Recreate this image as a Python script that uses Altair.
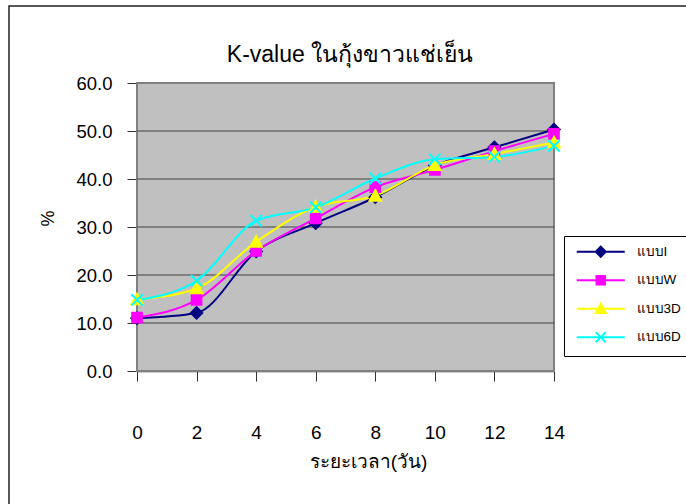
import altair as alt
import pandas as pd

# Storage time (days) and K-value (%) for each chilling treatment
days = [0, 2, 4, 6, 8, 10, 12, 14]
series_names = ["แบบI", "แบบW", "แบบ3D", "แบบ6D"]
k_type_i = [11.0, 12.1, 24.9, 30.8, 36.2, 42.8, 46.6, 50.3]
k_type_w = [11.1, 14.8, 25.0, 31.8, 38.3, 41.9, 45.8, 49.4]
k_type_3d = [14.9, 17.2, 26.9, 34.2, 36.5, 42.9, 45.2, 47.6]
k_type_6d = [14.8, 18.8, 31.3, 34.1, 40.1, 44.1, 44.6, 46.9]
y_ticks = [0, 10, 20, 30, 40, 50, 60]
chart_title = "K-value ในกุ้งขาวแช่เย็น"

series_colors = ["#000080", "#FF00FF", "#FFFF00", "#00FFFF"]

# marker outlines: diamond, square, triangle, x-cross
marker_paths = [
    "M-1,0L0,-1L1,0L0,1Z",
    "M-0.85,-0.85L0.85,-0.85L0.85,0.85L-0.85,0.85Z",
    "M0,-1L1,0.85L-1,0.85Z",
    "M-1,-1L1,1M-1,1L1,-1",
]
# legend symbols: a short line segment running through each marker
legend_paths = ["M-4.8,0L4.8,0" + p for p in marker_paths]

rows = []
for name, values in zip(series_names, [k_type_i, k_type_w, k_type_3d, k_type_6d]):
    for d, v in zip(days, values):
        rows.append({"day": d, "k": v, "series": name})
df = pd.DataFrame(rows)
grid_df = pd.DataFrame({"k": y_ticks[1:-1]})

FONT = "Liberation Sans, Arial, sans-serif"
PLOT_BG = "#C0C0C0"

x_enc = alt.X(
    "day:Q",
    scale=alt.Scale(domain=[0, 14], nice=False, zero=False),
    axis=alt.Axis(
        values=days,
        grid=False,
        title="ระยะเวลา(วัน)",
        titleX=231,
        titleY=90,
        titleAlign="center",
        titleBaseline="middle",
        titleFontSize=19,
        titleFontWeight="normal",
        titleColor="#000000",
        titleFont=FONT,
        labelFontSize=19,
        labelFont=FONT,
        labelColor="#000000",
        labelPadding=42,
        tickSize=10,
        tickColor="#333333",
        domainColor="#333333",
        domainWidth=1.5,
        labelFlush=False,
    ),
)
y_enc = alt.Y(
    "k:Q",
    scale=alt.Scale(domain=[0, 60], nice=False),
    axis=alt.Axis(
        values=y_ticks,
        format=".1f",
        grid=False,
        title="%",
        titleX=-89,
        titleY=135,
        titleAlign="center",
        titleBaseline="middle",
        titleFontSize=18,
        titleFontWeight="normal",
        titleColor="#000000",
        titleFont=FONT,
        labelFontSize=18.5,
        labelFont=FONT,
        labelColor="#000000",
        labelPadding=15,
        tickSize=10,
        tickColor="#333333",
        domainColor="#333333",
        domainWidth=1.5,
        labelFlush=False,
    ),
)

color_scale = alt.Scale(domain=series_names, range=series_colors)

# grey plot-area background
plot_bg = alt.Chart(alt.Data(values=[{}])).mark_rect(
    fill=PLOT_BG, stroke="#808080", strokeWidth=2
).encode(
    x=alt.value(0), x2=alt.value(417), y=alt.value(0), y2=alt.value(288)
)

# horizontal gridlines at the y tick values
grid = alt.Chart(grid_df).mark_rule(color="#404040", strokeWidth=1).encode(
    y="k:Q"
)

lines = alt.Chart(df).mark_line(interpolate="monotone", strokeWidth=2).encode(
    x=x_enc,
    y=y_enc,
    color=alt.Color("series:N", scale=color_scale, legend=None),
)

markers = alt.Chart(df).mark_point(filled=True, size=130, strokeWidth=2, opacity=1).encode(
    x="day:Q",
    y="k:Q",
    fill=alt.Fill("series:N", scale=color_scale, legend=None),
    stroke=alt.Stroke("series:N", scale=color_scale, legend=None),
    shape=alt.Shape("series:N", scale=alt.Scale(domain=series_names, range=marker_paths), legend=None),
)

legend_def = alt.Legend(
    title=None,
    orient="none",
    legendX=427,
    legendY=153,
    padding=9,
    strokeColor="#000000",
    fillColor="#FFFFFF",
    labelFontSize=13.5,
    labelFont=FONT,
    labelColor="#000000",
    symbolOffset=21,
    labelOffset=29,
    rowPadding=10.5,
    symbolStrokeWidth=2,
    symbolOpacity=1,
)

legend_layer = alt.Chart(df).transform_filter("false").mark_point(
    filled=True, size=130, strokeWidth=2, opacity=1
).encode(
    fill=alt.Fill("series:N", scale=color_scale, legend=legend_def),
    stroke=alt.Stroke("series:N", scale=color_scale, legend=legend_def),
    shape=alt.Shape("series:N", scale=alt.Scale(domain=series_names, range=legend_paths), legend=legend_def),
)

# chart title above the plot
title_mark = alt.Chart(alt.Data(values=[{"t": chart_title}])).mark_text(
    font=FONT, fontSize=23, color="#000000", align="center", baseline="middle"
).encode(
    text="t:N", x=alt.value(213), y=alt.value(-28)
)

# outer chart frame
frame = alt.Chart(alt.Data(values=[{}])).mark_rect(
    fill="transparent", stroke="#222222", strokeWidth=1.5
).encode(
    x=alt.value(-128), x2=alt.value(700), y=alt.value(-77), y2=alt.value(520)
)

chart = (
    alt.layer(frame, plot_bg, grid, lines, markers, legend_layer, title_mark)
    .resolve_scale(shape="independent", fill="independent", stroke="independent")
    .properties(
        width=417,
        height=288,
        autosize=alt.AutoSizeParams(type="none"),
        padding={"left": 137, "top": 83, "right": 132, "bottom": 133},
        background="#FFFFFF",
    )
    .configure_view(fill=PLOT_BG, stroke="#808080", strokeWidth=2)
)

chart.save("out.html", embed_options={"renderer": "svg", "actions": False})
